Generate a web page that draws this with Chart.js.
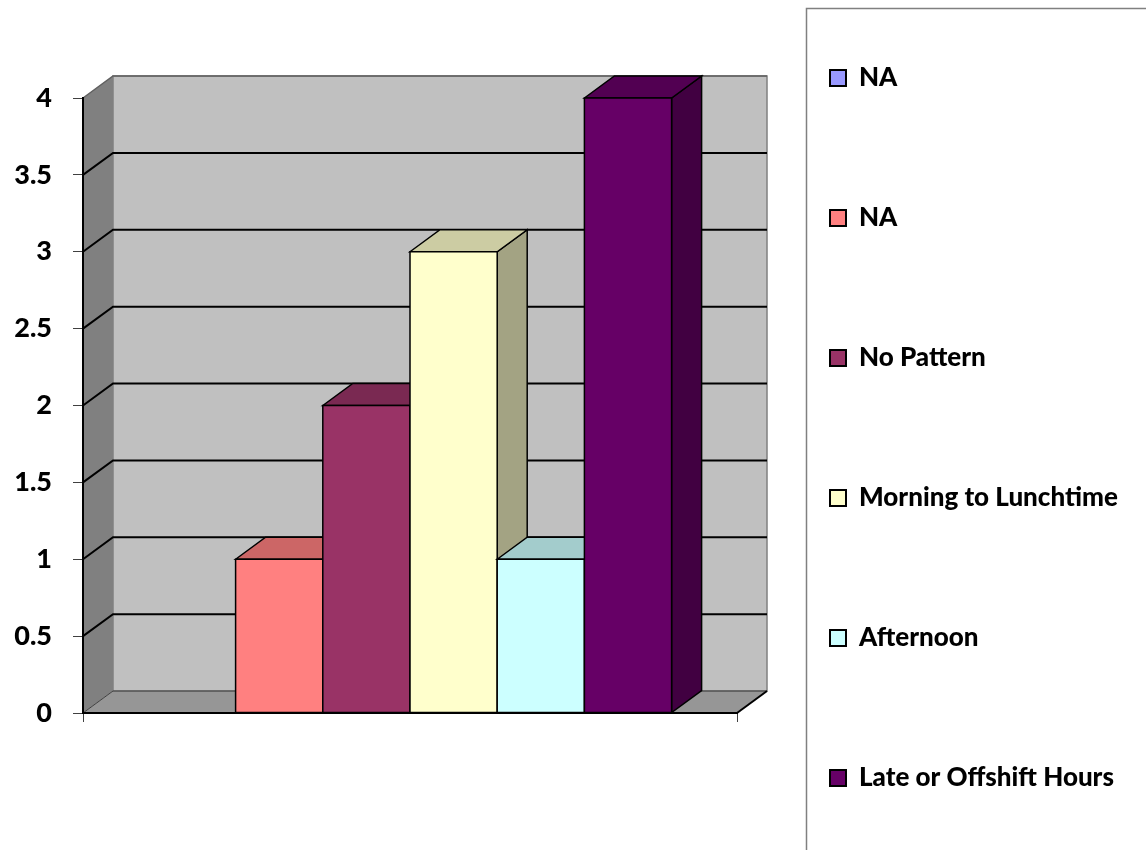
<!DOCTYPE html>
<html>
<head>
<meta charset="utf-8">
<script src="https://cdn.jsdelivr.net/npm/chart.js@4/dist/chart.umd.min.js"></script>
<style>
  html, body { margin: 0; padding: 0; background: #fff; }
  #wrap { width: 1146px; height: 850px; }
</style>
</head>
<body>
<div id="wrap"><canvas id="chart" width="1146" height="850"></canvas></div>
<script>
// Datos
const categories = [''];
const seriesNames = ['NA', 'NA', 'No Pattern', 'Morning to Lunchtime', 'Afternoon', 'Late or Offshift Hours'];
const seriesValues = [[0], [1], [2], [3], [1], [4]];
const seriesColors = ['#9999FF', '#FF8080', '#993366', '#FFFFCC', '#CCFFFF', '#660066'];
const yTickValues = [0, 0.5, 1, 1.5, 2, 2.5, 3, 3.5, 4];

// Aspecto 3D
const DEPTH_X = 30;
const DEPTH_Y = -22;
const FONT = 'Lato, "Open Sans", sans-serif';

function shade(hex, f) {
    const n = parseInt(hex.slice(1), 16);
    const r = Math.round(((n >> 16) & 255) * f);
    const g = Math.round(((n >> 8) & 255) * f);
    const b = Math.round((n & 255) * f);
    return 'rgb(' + r + ',' + g + ',' + b + ')';
}

function poly(ctx, pts, fill, stroke, lw) {
    ctx.beginPath();
    ctx.moveTo(pts[0][0], pts[0][1]);
    for (let i = 1; i < pts.length; i++) ctx.lineTo(pts[i][0], pts[i][1]);
    ctx.closePath();
    if (fill) { ctx.fillStyle = fill; ctx.fill(); }
    if (stroke) { ctx.strokeStyle = stroke; ctx.lineWidth = lw; ctx.stroke(); }
}

// Leyenda: ancho fijo y posicion del recuadro
const LEGEND_WIDTH = 409;
const LEGEND_PAD = 114;
const LEGEND_ITEM_X = 830;
const LEGEND_FIRST_Y = 65;

const threeD = {
    id: 'threeD',
    beforeLayout(chart) {
        const lg = chart.legend;
        if (lg && !lg._fixedWidth) {
            const fit = lg.fit;
            lg.fit = function () { fit.call(this); this.width = LEGEND_WIDTH; };
            lg._fixedWidth = true;
        }
    },
    afterLayout(chart) {
        const lg = chart.legend;
        lg.left = LEGEND_ITEM_X - LEGEND_PAD;
        lg.right = 1400;
        lg.top = LEGEND_FIRST_Y - LEGEND_PAD;
        lg.bottom = 3000;
    },
    beforeDatasetsDraw(chart) {
        const ctx = chart.ctx;
        const { left, right, top, bottom } = chart.chartArea;
        const yScale = chart.scales.y;
        const dx = DEPTH_X, dy = DEPTH_Y;
        ctx.save();
        ctx.lineJoin = 'miter';

        // suelo, pared trasera y pared izquierda
        poly(ctx, [[left, bottom], [left + dx, bottom + dy], [right + dx, bottom + dy], [right, bottom]], '#969696');
        poly(ctx, [[left + dx, top + dy], [right + dx, top + dy], [right + dx, bottom + dy], [left + dx, bottom + dy]], '#C0C0C0', '#808080', 1.5);
        poly(ctx, [[left, top], [left + dx, top + dy], [left + dx, bottom + dy], [left, bottom]], '#808080');

        // lineas de division
        yScale.ticks.forEach(t => {
            const py = yScale.getPixelForValue(t.value);
            ctx.beginPath();
            ctx.moveTo(left, py);
            ctx.lineTo(left + dx, py + dy);
            ctx.lineTo(right + dx, py + dy);
            if (t.value === 0) { ctx.strokeStyle = '#404040'; ctx.lineWidth = 1; }
            else if (t.value === yScale.max) { ctx.strokeStyle = '#606060'; ctx.lineWidth = 1.5; }
            else { ctx.strokeStyle = '#000'; ctx.lineWidth = 2; }
            ctx.stroke();
        });

        // borde derecho del suelo
        ctx.beginPath();
        ctx.moveTo(right, bottom);
        ctx.lineTo(right + dx, bottom + dy);
        ctx.strokeStyle = '#000';
        ctx.lineWidth = 2;
        ctx.stroke();

        // barras 3D
        chart.data.datasets.forEach((ds, i) => {
            const meta = chart.getDatasetMeta(i);
            meta.data.forEach((bar, j) => {
                const v = ds.data[j];
                if (!v) return;
                const l = bar.x - bar.width / 2, r = bar.x + bar.width / 2;
                const t = bar.y, b = bar.base;
                const c = seriesColors[i];
                poly(ctx, [[r, t], [r + dx, t + dy], [r + dx, b + dy], [r, b]], shade(c, 0.64), '#000', 1.5);
                poly(ctx, [[l, t], [l + dx, t + dy], [r + dx, t + dy], [r, t]], shade(c, 0.8), '#000', 1.5);
                poly(ctx, [[l, t], [r, t], [r, b], [l, b]], c, '#000', 1.5);
            });
        });
        ctx.restore();
        return false;
    },
    afterDraw(chart) {
        const ctx = chart.ctx;
        ctx.save();
        ctx.strokeStyle = '#808080';
        ctx.lineWidth = 1.5;
        ctx.strokeRect(806.5, 8.5, 500, 900);
        ctx.restore();
    }
};

const ctx = document.getElementById('chart').getContext('2d');
const chart = new Chart(ctx, {
    type: 'bar',
    data: {
        labels: categories,
        datasets: seriesNames.map((name, i) => ({
            label: name,
            data: seriesValues[i],
            backgroundColor: seriesColors[i],
            borderColor: '#000',
            borderWidth: 2,
            categoryPercentage: 0.8,
            barPercentage: 1
        }))
    },
    options: {
        responsive: false,
        animation: false,
        layout: { padding: { top: 98, left: 0, right: 0, bottom: 0 } },
        plugins: {
            tooltip: { enabled: false },
            legend: {
                position: 'right',
                align: 'start',
                labels: {
                    boxWidth: 16,
                    boxHeight: 16,
                    padding: LEGEND_PAD,
                    color: '#000',
                    font: { family: FONT, size: 26, weight: 900 }
                }
            }
        },
        scales: {
            x: {
                grid: { offset: true, drawOnChartArea: false, tickLength: 9, color: '#404040', lineWidth: 1 },
                border: { display: true, color: '#000', width: 2, z: 1 },
                ticks: { display: false },
                afterFit(scale) { scale.height = 137; }
            },
            y: {
                min: 0,
                max: 4,
                afterBuildTicks(scale) { scale.ticks = yTickValues.map(v => ({ value: v })); },
                grid: { drawOnChartArea: false, tickLength: 10, color: '#404040', lineWidth: 1 },
                border: { display: true, color: '#000', width: 2, z: 1 },
                ticks: {
                    padding: 21,
                    color: '#000',
                    font: { family: FONT, size: 27, weight: 900 },
                    callback: value => String(value)
                },
                afterFit(scale) { scale.width = 83; }
            }
        }
    },
    plugins: [threeD]
});
</script>
</body>
</html>
